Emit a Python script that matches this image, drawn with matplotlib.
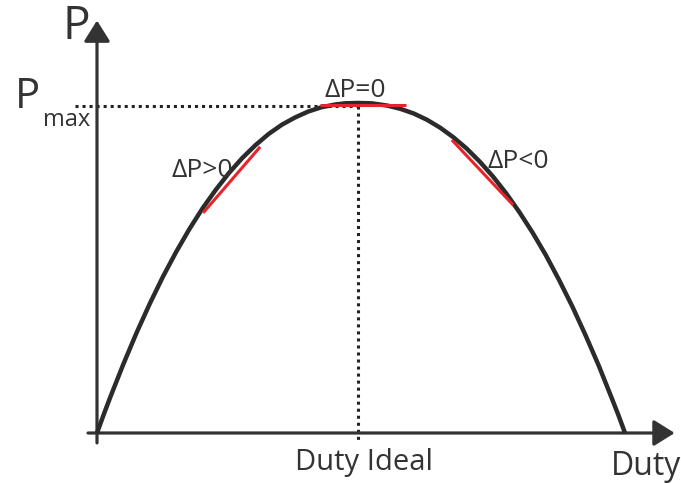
import matplotlib
matplotlib.use('Agg')
from matplotlib import pyplot as plt
from matplotlib.patches import ArrowStyle

plt.rcParams['font.family'] = ['Open Sans', 'DejaVu Sans']

# P-Duty curve (duty 0..1, power normalised to Pmax = 1)
duty = [0, 0.0125, 0.025, 0.05, 0.075, 0.1, 0.125, 0.15, 0.175, 0.2, 0.225,
        0.25, 0.275, 0.3, 0.325, 0.35, 0.375, 0.4, 0.425, 0.45, 0.47, 0.494,
        0.52, 0.55, 0.575, 0.6, 0.625, 0.65, 0.675, 0.7, 0.725, 0.75, 0.775,
        0.8, 0.825, 0.85, 0.875, 0.9, 0.925, 0.95, 0.975, 0.9875, 1.0]
power = [0, 0.055, 0.108, 0.209, 0.304, 0.392, 0.474, 0.549, 0.618, 0.681, 0.737,
         0.788, 0.833, 0.872, 0.906, 0.934, 0.956, 0.974, 0.987, 0.995, 0.999, 1.0,
         0.999, 0.992, 0.982, 0.968, 0.949, 0.925, 0.896, 0.862, 0.822, 0.777, 0.726,
         0.669, 0.607, 0.539, 0.464, 0.384, 0.297, 0.205, 0.105, 0.054, 0]

duty_ideal = 0.494
p_max = 0.991

# tangent segments (duty pairs, power pairs)
tangent_up = ([0.201, 0.309], [0.667, 0.867])
tangent_top = ([0.422, 0.585], [0.994, 0.994])
tangent_down = ([0.672, 0.788], [0.888, 0.691])

dark = '#333333'
red = '#e8242b'

fig = plt.figure(figsize=(6.81, 4.83), dpi=100)
ax = fig.add_axes([0, 0, 1, 1])
ax.set_xlim(-0.1837, 1.106)
ax.set_ylim(-0.1515, 1.312)
ax.axis('off')

head = ArrowStyle('-|>', head_length=0.4, head_width=0.25)
# axes with arrow heads
ax.annotate('', xy=(0, 1.25), xytext=(0, -0.03),
            arrowprops=dict(arrowstyle=head, mutation_scale=32, lw=2.3,
                            color=dark, shrinkA=0, shrinkB=0), zorder=2)
ax.annotate('', xy=(1.094, 0), xytext=(-0.017, 0),
            arrowprops=dict(arrowstyle=head, mutation_scale=32, lw=2.3,
                            color=dark, shrinkA=0, shrinkB=0), zorder=2)

# dotted guide lines
ax.plot([-0.042, duty_ideal], [p_max, p_max], color='#222222', lw=2.2,
        linestyle=(0, (1, 1.3)), zorder=1)
ax.plot([duty_ideal, duty_ideal], [p_max, -0.021], color='#222222', lw=2.2,
        linestyle=(0, (1, 1.3)), zorder=1)

# curve
ax.plot(duty, power, color='#2b2b2b', lw=3.2, solid_capstyle='butt',
        solid_joinstyle='round', zorder=3)

# tangents
for xs, ys in (tangent_up, tangent_top, tangent_down):
    ax.plot(xs, ys, color=red, lw=2.2, solid_capstyle='butt', zorder=4)

# labels
ax.text(-0.040, 1.23, 'P', fontsize=33, color=dark, ha='center', va='center')
ax.text(-0.1326, 1.018, 'P', fontsize=30, color=dark, ha='center', va='center')
ax.text(-0.1023, 0.930, 'max', fontsize=17, color=dark, ha='left', va='baseline')
ax.text(0.4886, 1.018, 'ΔP=0', fontsize=19, color=dark, ha='center', va='baseline')
ax.text(0.199, 0.776, 'ΔP>0', fontsize=19, color=dark, ha='center', va='baseline')
ax.text(0.797, 0.803, 'ΔP<0', fontsize=19, color=dark, ha='center', va='baseline')
ax.text(0.506, -0.112, 'Duty Ideal', fontsize=21, color=dark, ha='center', va='baseline')
ax.text(1.040, -0.127, 'Duty', fontsize=23, color=dark, ha='center', va='baseline')

fig.savefig('out.png', dpi=100)
